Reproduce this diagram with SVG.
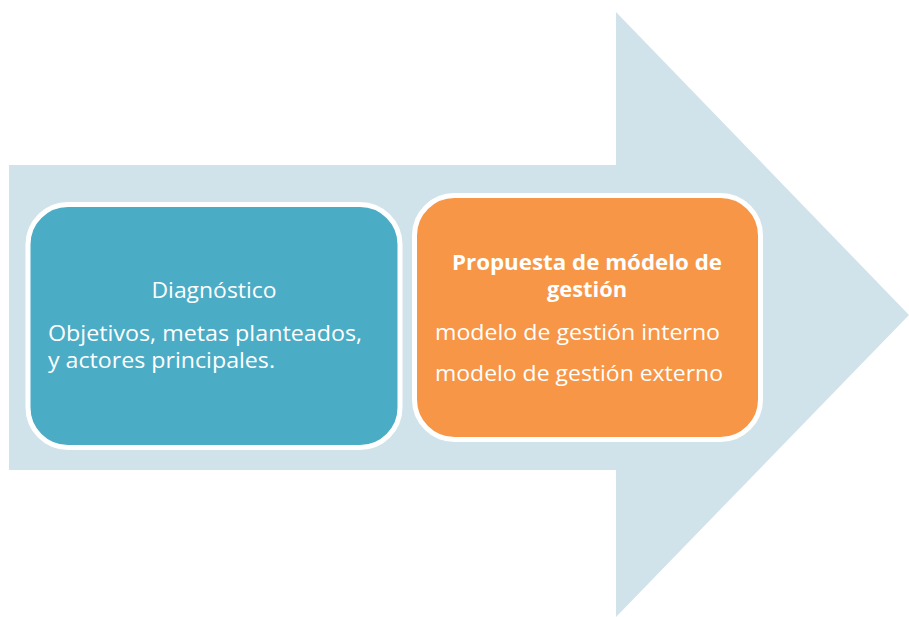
<svg xmlns="http://www.w3.org/2000/svg" width="909" height="617" viewBox="0 0 909 617">
<style>
.t{font-family:"Open Sans","Liberation Sans",sans-serif;font-size:22px;fill:#FFFFFF}
.b{font-weight:bold;font-size:20.5px}
.box{stroke:#FFFFFF;stroke-width:5}
</style>
<rect width="909" height="617" fill="#FFFFFF"/>
<g id="arrow">
<polygon points="9,165 616,165 616,12 909,315 616,617 616,470 9,470" fill="#D1E3EA"/>
</g>
<g id="connectors"></g>
<g id="node-diagnostico">
<rect class="box" x="28" y="204.5" width="372" height="243" rx="40" ry="40" fill="#4BACC6"/>
<text class="t" x="214" y="298" text-anchor="middle" textLength="125" lengthAdjust="spacingAndGlyphs">Diagnóstico</text>
<text class="t" x="48" y="341" textLength="314" lengthAdjust="spacingAndGlyphs">Objetivos, metas planteados,</text>
<text class="t" x="48" y="368" textLength="227" lengthAdjust="spacingAndGlyphs">y actores principales.</text>
</g>
<g id="node-propuesta">
<rect class="box" x="414.5" y="195.5" width="346" height="244" rx="40" ry="40" fill="#F79646"/>
<text class="t b" x="452" y="270" textLength="270" lengthAdjust="spacingAndGlyphs">Propuesta de módelo de</text>
<text class="t b" x="547" y="297" textLength="80" lengthAdjust="spacingAndGlyphs">gestión</text>
<text class="t" x="435" y="340" textLength="285" lengthAdjust="spacingAndGlyphs">modelo de gestión interno</text>
<text class="t" x="435" y="381" textLength="288" lengthAdjust="spacingAndGlyphs">modelo de gestión externo</text>
</g>
</svg>
